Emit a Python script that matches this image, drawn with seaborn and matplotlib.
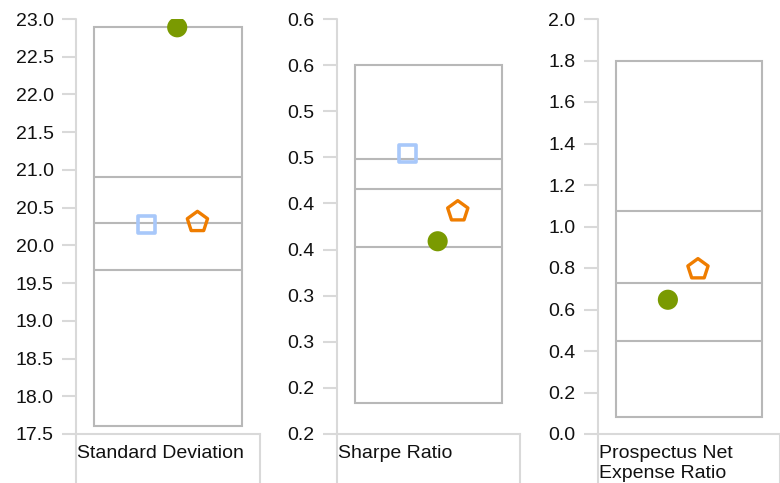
import numpy as np
import pandas as pd
import matplotlib
matplotlib.use("Agg")
import matplotlib.pyplot as plt
from matplotlib.patches import Rectangle
import seaborn as sns

# ── dados ─────────────────────────────────────────────────────────────────
categories = ["Standard Deviation", "Sharpe Ratio", "Prospectus Net\nExpense Ratio"]
box_low  = [17.61, 0.234, 0.083]
box_q1   = [19.67, 0.403, 0.450]
box_med  = [20.30, 0.466, 0.728]
box_q3   = [20.91, 0.498, 1.076]
box_high = [22.89, 0.600, 1.798]

fund_vals  = [22.89, 0.409, 0.647]    # círculo verde
index_vals = [20.28, 0.504, None]     # quadrado azul
peer_vals  = [20.31, 0.4415, 0.794]   # pentágono laranja

y_ticks = [
    [17.5, 18.0, 18.5, 19.0, 19.5, 20.0, 20.5, 21.0, 21.5, 22.0, 22.5, 23.0],
    [0.20, 0.25, 0.30, 0.35, 0.40, 0.45, 0.50, 0.55, 0.60, 0.65],
    [0.0, 0.2, 0.4, 0.6, 0.8, 1.0, 1.2, 1.4, 1.6, 1.8, 2.0],
]
y_ticklabels = [
    ["17.5", "18.0", "18.5", "19.0", "19.5", "20.0", "20.5", "21.0", "21.5", "22.0", "22.5", "23.0"],
    ["0.2", "0.2", "0.3", "0.3", "0.4", "0.4", "0.5", "0.5", "0.6", "0.6"],
    ["0.0", "0.2", "0.4", "0.6", "0.8", "1.0", "1.2", "1.4", "1.6", "1.8", "2.0"],
]

# ── estilo ────────────────────────────────────────────────────────────────
sns.set_theme(style="white")
plt.rcParams["font.family"] = ["Liberation Sans", "DejaVu Sans"]

AX_GREY  = "#d9d9d9"
BOX_GREY = "#b8b8b8"
series = [
    # (valores, marcador, cor, preenchido, tamanho, espessura)
    (index_vals, "s", "#a8c8fa", False, 150, 2.6),
    (fund_vals,  "o", "#7a9a01", True,  210, 0),
    (peer_vals,  "p", "#ef7d00", False, 235, 2.4),
]
slots = [0.385, 0.55, 0.66]   # posição horizontal das séries presentes

fig = plt.figure(figsize=(7.8, 4.83), dpi=100)
lefts  = [76, 337, 597.7]
widths = [184, 183, 182.3]
bottom, height = (483 - 434) / 483, 415 / 483
ext = 49 / 415   # extensão das linhas abaixo do eixo (célula do rótulo)

for i, cat in enumerate(categories):
    ax = fig.add_axes([lefts[i] / 780, bottom, widths[i] / 780, height])
    ax.set_xlim(0, 1)
    ax.set_ylim(y_ticks[i][0], y_ticks[i][-1])

    # caixa + linhas de quartis
    ax.add_patch(Rectangle((0.1, box_low[i]), 0.8, box_high[i] - box_low[i],
                           fill=False, ec=BOX_GREY, lw=1.5, zorder=2))
    for q in (box_q1[i], box_med[i], box_q3[i]):
        ax.plot([0.1, 0.9], [q, q], color=BOX_GREY, lw=1.5, zorder=2)

    # marcadores (só as séries com valor ocupam posição)
    k = 0
    for vals, mk, col, filled, s, lw in series:
        v = vals[i]
        if v is None:
            continue
        if filled:
            sns.scatterplot(x=[slots[k]], y=[v], marker=mk, s=s, color=col,
                            edgecolor="none", linewidth=0, ax=ax, zorder=4,
                            legend=False)
        else:
            sns.scatterplot(x=[slots[k]], y=[v], marker=mk, s=s,
                            facecolor="none", edgecolor=col, linewidth=lw,
                            ax=ax, zorder=4, legend=False)
        k += 1

    # eixos
    for side in ("top", "right", "left"):
        ax.spines[side].set_visible(False)
    ax.spines["bottom"].set_color(AX_GREY)
    ax.spines["bottom"].set_linewidth(1.5)
    ax.plot([0, 0], [1, -ext], transform=ax.transAxes, color=AX_GREY,
            lw=1.5, clip_on=False, zorder=1)
    ax.plot([1, 1], [0, -ext], transform=ax.transAxes, color=AX_GREY,
            lw=1.5, clip_on=False, zorder=1)

    ax.set_yticks(y_ticks[i])
    ax.set_yticklabels(y_ticklabels[i])
    ax.tick_params(axis="y", which="major", left=True, length=10, width=1.5,
                   color=AX_GREY, pad=6, labelsize=14, labelcolor="#111111")
    ax.set_xticks([])
    ax.set_xlabel("")
    ax.set_ylabel("")

    ax.text(0.007, -0.027, cat, transform=ax.transAxes, ha="left", va="top",
            fontsize=14, color="#111111", linespacing=1.22)

fig.savefig("out.png", dpi=100)
